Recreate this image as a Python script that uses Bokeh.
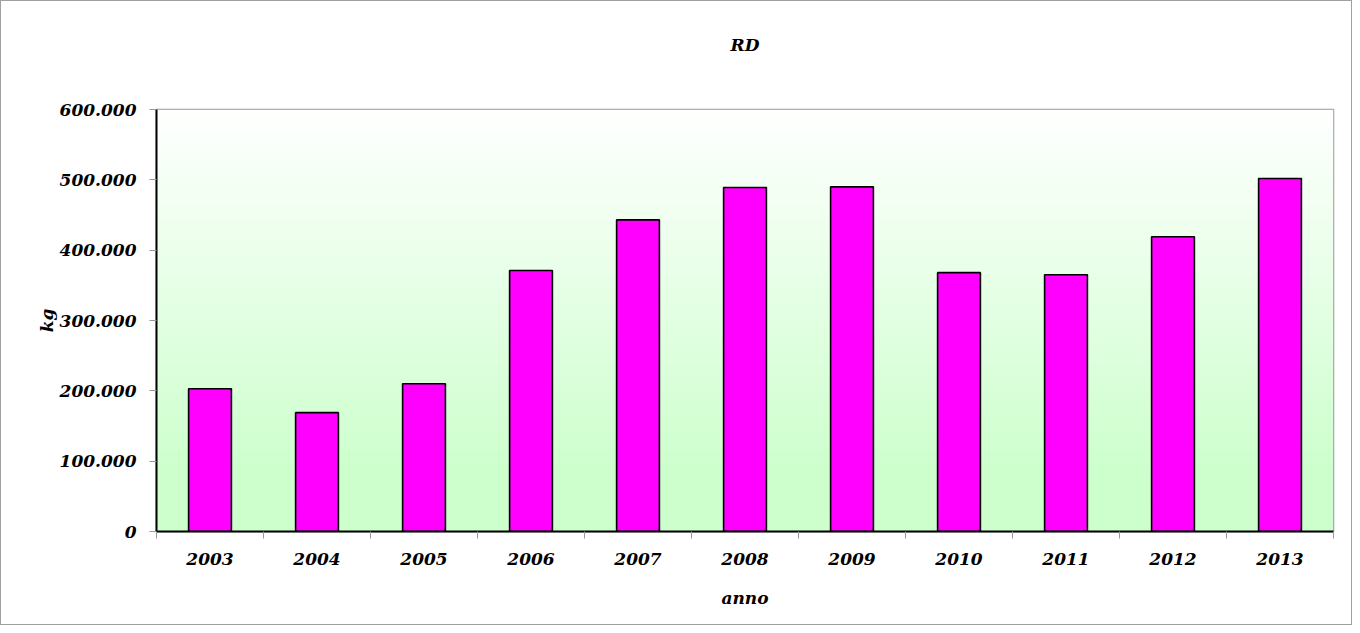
import numpy as np
from bokeh.plotting import figure
from bokeh.models import Range1d, FixedTicker, ColumnDataSource, Title
from bokeh.embed import file_html
from bokeh.resources import INLINE

# ---- data ----
years = ["2003", "2004", "2005", "2006", "2007", "2008", "2009", "2010", "2011", "2012", "2013"]
values = [203000, 169000, 210000, 371000, 443000, 489000, 490000, 368000, 365000, 419000, 502000]
y_ticks = [0, 100000, 200000, 300000, 400000, 500000, 600000]
y_tick_labels = ["0", "100.000", "200.000", "300.000", "400.000", "500.000", "600.000"]
title_text = "RD"
x_label = "anno"
y_label = "kg"

FONT = "DejaVu Serif"
FS = "17px"
TXT = "black"
n = len(years)
xs = list(range(n))
y_max = y_ticks[-1]

p = figure(width=1352, height=625, output_backend="svg", toolbar_location=None,
           x_range=Range1d(-0.5, n - 0.5), y_range=Range1d(0, y_max),
           min_border_left=155, min_border_right=20, min_border_top=108, min_border_bottom=95)
p.styles = {"border": "1px solid #a0a0a0", "box-sizing": "border-box"}

# gradient background (white at top -> light green at bottom)
rows = 300
t = np.linspace(0, 1, rows)  # 0 bottom, 1 top
frac = np.clip((t - 0.12) / 0.88, 0, 1)
g = (204 + (255 - 204) * frac).astype(np.uint8)
img = np.empty((rows, 1), dtype=np.uint32)
view = img.view(dtype=np.uint8).reshape((rows, 1, 4))
view[:, 0, 0] = g
view[:, 0, 1] = 255
view[:, 0, 2] = g
view[:, 0, 3] = 255
p.image_rgba(image=[img], x=-0.5, y=0, dw=n, dh=y_max)

src = ColumnDataSource(dict(x=xs, top=values))
p.vbar(x="x", top="top", bottom=0, width=0.4, source=src,
       fill_color="#FF00FF", line_color="black", line_width=1.6)

# spacer between the frame and the title
spacer = Title(text=" ", standoff=33, text_font=FONT, text_font_size=FS)
p.add_layout(spacer, "above")

# title
p.title.text = title_text
p.title.align = "center"
p.title.text_font = FONT
p.title.text_font_style = "bold italic"
p.title.text_font_size = FS
p.title.text_color = TXT
p.title.standoff = 0

p.outline_line_color = "#999999"
p.outline_line_width = 1.5
p.background_fill_color = "white"

# x axis
xa = p.xaxis[0]
xa.ticker = FixedTicker(ticks=xs, minor_ticks=[i - 0.5 for i in range(n + 1)])
xa.major_label_overrides = {i: y for i, y in enumerate(years)}
xa.major_tick_line_color = None
xa.major_tick_out = 7
xa.major_tick_in = 0
xa.minor_tick_out = 7
xa.minor_tick_in = 0
xa.minor_tick_line_color = "#999999"
xa.axis_line_color = "black"
xa.axis_line_width = 2
xa.major_label_text_font = FONT
xa.major_label_text_font_style = "bold italic"
xa.major_label_text_font_size = FS
xa.major_label_text_color = TXT
xa.major_label_standoff = 14
xa.axis_label = x_label
xa.axis_label_text_font = FONT
xa.axis_label_text_font_style = "bold italic"
xa.axis_label_text_font_size = FS
xa.axis_label_text_color = TXT
xa.axis_label_standoff = 20

# y axis
ya = p.yaxis[0]
ya.ticker = FixedTicker(ticks=y_ticks)
ya.major_label_overrides = {v: l for v, l in zip(y_ticks, y_tick_labels)}
ya.minor_tick_line_color = None
ya.major_tick_out = 7
ya.major_tick_in = 0
ya.major_tick_line_color = "#999999"
ya.axis_line_color = "black"
ya.axis_line_width = 2
ya.major_label_text_font = FONT
ya.major_label_text_font_style = "bold italic"
ya.major_label_text_font_size = FS
ya.major_label_text_color = TXT
ya.major_label_standoff = 13
ya.axis_label = y_label
ya.axis_label_text_font = FONT
ya.axis_label_text_font_style = "bold italic"
ya.axis_label_text_font_size = FS
ya.axis_label_text_color = TXT
ya.axis_label_standoff = 0

p.xgrid.grid_line_color = None
p.ygrid.grid_line_color = "#909090"
p.ygrid.grid_line_width = 1

open("out.html", "w").write(file_html(p, INLINE))
